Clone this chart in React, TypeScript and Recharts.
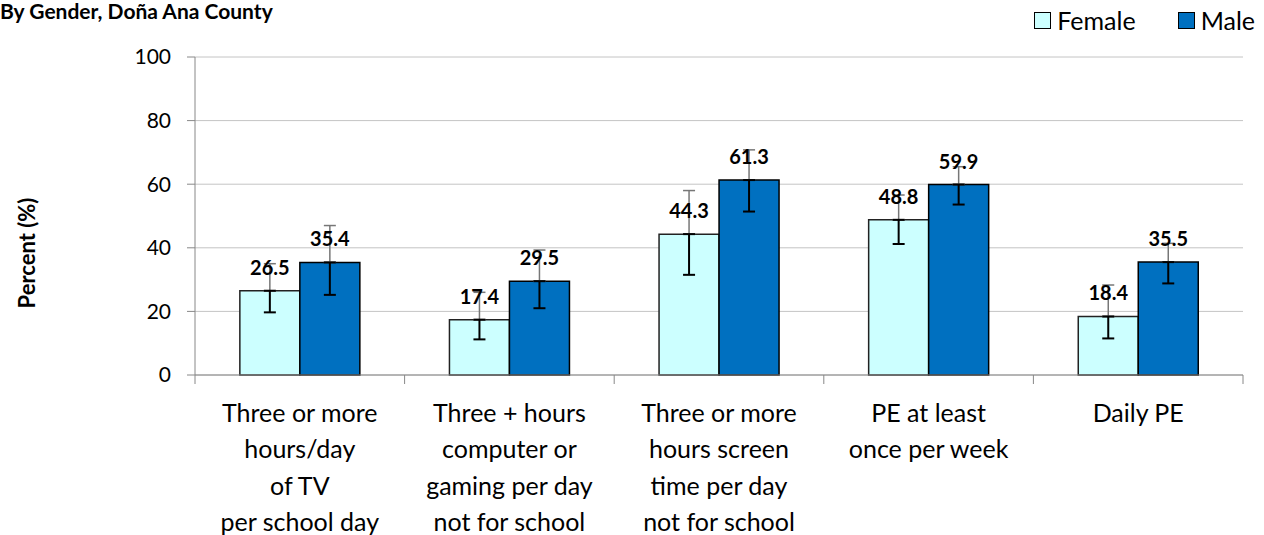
import { BarChart, Bar, XAxis, YAxis, CartesianGrid, ErrorBar, LabelList } from 'recharts';

const categoryLines = [
  ['Three or more', 'hours/day', 'of TV', 'per school day'],
  ['Three + hours', 'computer or', 'gaming per day', 'not for school'],
  ['Three or more', 'hours screen', 'time per day', 'not for school'],
  ['PE at least', 'once per week'],
  ['Daily PE'],
];
const seriesNames = ['Female', 'Male'];
const femaleValues = [26.5, 17.4, 44.3, 48.8, 18.4];
const maleValues = [35.4, 29.5, 61.3, 59.9, 35.5];
// 95% confidence limits
const femaleLow = [19.7, 11.2, 31.5, 41.2, 11.5];
const femaleHigh = [35.0, 26.0, 58.0, 56.6, 28.3];
const maleLow = [25.2, 21.0, 51.4, 53.6, 28.8];
const maleHigh = [47.0, 39.3, 70.8, 65.5, 41.4];
const yTicks = [0, 20, 40, 60, 80, 100];

const W = 1264;
const H = 535;
const PLOT_LEFT = 195;
const PLOT_RIGHT = 1243;
const PLOT_TOP = 57;
const PLOT_BOTTOM = 375;
const BAND = (PLOT_RIGHT - PLOT_LEFT) / categoryLines.length;
const FONT = 'Lato, "Open Sans", sans-serif';
const AXIS = '#888888';
const FEMALE = '#ccffff';
const MALE = '#0070c0';

const chartData = categoryLines.map((lines, i) => ({
  category: lines.join('\n'),
  female: femaleValues[i],
  male: maleValues[i],
  femaleUp: [0, femaleHigh[i] - femaleValues[i]],
  femaleDown: [femaleValues[i] - femaleLow[i], 0],
  maleUp: [0, maleHigh[i] - maleValues[i]],
  maleDown: [maleValues[i] - maleLow[i], 0],
}));

function CategoryTick(props: any) {
  const { x, y, payload } = props;
  const lines = String(payload.value).split('\n');
  const idx = payload.index ?? props.index;
  return (
    <g>
      <line x1={x - BAND / 2} y1={y} x2={x - BAND / 2} y2={y + 9} stroke={AXIS} />
      {idx === categoryLines.length - 1 && (
        <line x1={x + BAND / 2} y1={y} x2={x + BAND / 2} y2={y + 9} stroke={AXIS} />
      )}
      <text x={x} y={y + 47} textAnchor="middle" fontSize={25} fill="#000" fontFamily={FONT}>
        {lines.map((l, i) => (
          <tspan key={i} x={x} dy={i === 0 ? 0 : 36.3}>
            {l}
          </tspan>
        ))}
      </text>
    </g>
  );
}

function YTitle() {
  // baseline sits at x=35, text centred a bit below the plot middle as in the source
  const bx = 35;
  const cy = 253;
  return (
    <text
      x={bx}
      y={cy}
      transform={`rotate(-90 ${bx} ${cy})`}
      textAnchor="middle"
      fontSize={22}
      fontWeight="bold"
      fill="#000"
      fontFamily={FONT}
    >
      Percent (%)
    </text>
  );
}

export default function App() {
  const swatches = [FEMALE, MALE];
  return (
    <div style={{ position: 'absolute', left: 0, top: 0, width: W, height: H, overflow: 'hidden', fontFamily: FONT, background: '#fff' }}>
      <div style={{ position: 'absolute', left: 0, top: 0, fontSize: 21, lineHeight: '22px', fontWeight: 'bold', color: '#000', whiteSpace: 'nowrap' }}>
        By Gender, Doña Ana County
      </div>
      <div style={{ position: 'absolute', right: 9, top: 5, display: 'flex', alignItems: 'center', fontSize: 25, color: '#000' }}>
        {seriesNames.map((name, i) => (
          <div key={name} style={{ display: 'flex', alignItems: 'center', marginLeft: i === 0 ? 0 : 42 }}>
            <span style={{ width: 15, height: 15, background: swatches[i], border: '1px solid #000', marginRight: 6, display: 'inline-block' }} />
            <span>{name}</span>
          </div>
        ))}
      </div>
      <BarChart
        width={W}
        height={H}
        data={chartData}
        margin={{ top: PLOT_TOP, right: W - PLOT_RIGHT, bottom: H - PLOT_BOTTOM - 30, left: 0 }}
        barGap={0}
        barCategoryGap="21.4%"
      >
        <CartesianGrid vertical={false} stroke="#c4c4c4" />
        <XAxis
          dataKey="category"
          interval={0}
          height={30}
          tickSize={0}
          tickMargin={0}
          tickLine={false}
          axisLine={{ stroke: AXIS }}
          tick={<CategoryTick />}
        />
        <YAxis
          width={PLOT_LEFT}
          domain={[0, 100]}
          ticks={yTicks}
          interval={0}
          tickSize={8}
          tickMargin={16}
          tickLine={{ stroke: AXIS }}
          axisLine={{ stroke: AXIS }}
          tick={{ fontSize: 21, fill: '#000', fontFamily: FONT }}
          label={{ content: <YTitle /> }}
        />
        <Bar dataKey="female" name={seriesNames[0]} fill={FEMALE} stroke="#222" strokeWidth={1.5} isAnimationActive={false}>
          <ErrorBar dataKey="femaleUp" width={6} stroke="#777" strokeWidth={1.5} direction="y" />
          <ErrorBar dataKey="femaleDown" width={6} stroke="#000" strokeWidth={2} direction="y" />
          <LabelList dataKey="female" position="top" offset={16} fill="#000" fontSize={20} fontWeight="bold" fontFamily={FONT} />
        </Bar>
        <Bar dataKey="male" name={seriesNames[1]} fill={MALE} stroke="#000" strokeWidth={1.5} isAnimationActive={false}>
          <ErrorBar dataKey="maleUp" width={6} stroke="#777" strokeWidth={1.5} direction="y" />
          <ErrorBar dataKey="maleDown" width={6} stroke="#000" strokeWidth={2} direction="y" />
          <LabelList dataKey="male" position="top" offset={16} fill="#000" fontSize={20} fontWeight="bold" fontFamily={FONT} />
        </Bar>
      </BarChart>
    </div>
  );
}
